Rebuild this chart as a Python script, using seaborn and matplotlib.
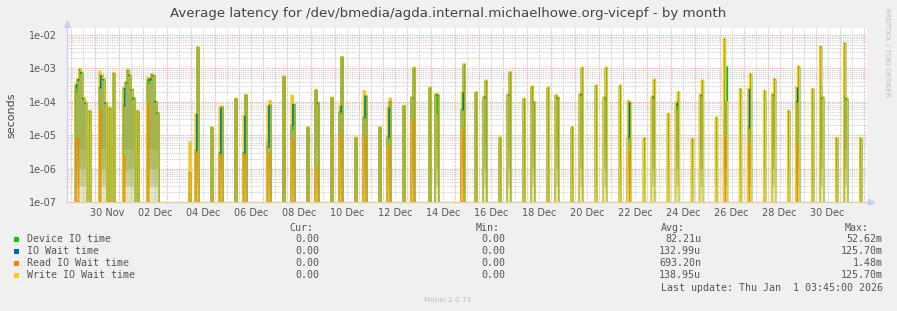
import numpy as np
import pandas as pd
import matplotlib
matplotlib.use("Agg")
import matplotlib.pyplot as plt
import matplotlib.dates as mdates
import matplotlib.ticker as mticker
from matplotlib.patches import Rectangle
import seaborn as sns

W_PX, H_PX = 897, 311

title = "Average latency for /dev/bmedia/agda.internal.michaelhowe.org-vicepf - by month"
series_names = ["Device IO time", "IO Wait time", "Read IO Wait time", "Write IO Wait time"]
series_colors = ["#00CC00", "#0066B3", "#FF8000", "#FFCC00"]

origin = "2025-11-29 00:00"
sample_hours = 2

# one entry per non-zero 2-hour sample (hours after origin)
event_hours = [4, 6, 8, 10, 12, 15, 19,
               28, 30, 32, 34, 38, 42,
               52, 54, 56, 58, 60, 62, 66,
               76, 78, 80, 82, 84, 86,
               118, 124, 126, 140, 148, 150, 164, 172, 174, 196, 198, 212,
               220, 222, 236, 244, 246, 260, 268, 270, 284, 292, 294, 308,
               316, 318, 332, 340, 342, 358, 364, 366, 390, 392, 404, 412,
               414, 428, 436, 438, 452, 460, 462, 476, 484, 486, 500, 508,
               510, 524, 532, 534, 548, 556, 558, 572, 580, 582, 596, 604,
               606, 620, 628, 630, 644, 652, 654, 668, 676, 678, 692, 700,
               702, 716, 724, 726, 740, 748, 750, 764, 772, 774, 788]
write_vals = [3.5e-4, 5.0e-4, 1.0e-3, 8.0e-4, 1.4e-4, 1.0e-4, 5.6e-5,
              8.0e-4, 6.5e-4, 5.0e-4, 1.0e-4, 7.0e-5, 7.5e-4,
              2.7e-4, 4.0e-4, 9.5e-4, 6.8e-4, 2.5e-4, 1.4e-4, 5.6e-5,
              5.4e-4, 5.4e-4, 7.0e-4, 6.5e-4, 1.1e-4, 5.0e-5,
              6.3e-6, 4.5e-5, 4.5e-3, 1.8e-5, 7.0e-5, 7.5e-5, 1.3e-4, 4.0e-5, 1.7e-4, 8.0e-5, 1.1e-4, 6.0e-4,
              1.6e-4, 9.0e-5, 1.8e-5, 2.4e-4, 1.0e-4, 1.4e-4, 8.0e-5, 2.3e-3, 8.9e-6, 2.2e-4, 1.6e-4, 1.8e-5,
              7.0e-5, 1.3e-4, 8.0e-5, 1.4e-4, 1.1e-3, 2.8e-4, 1.8e-4, 1.7e-4, 2.0e-4, 1.4e-3, 2.0e-4, 1.5e-4,
              4.5e-4, 8.9e-6, 1.7e-4, 8.0e-4, 1.3e-4, 3.0e-4, 1.0e-4, 2.8e-4, 1.6e-4, 1.4e-4, 1.8e-5, 1.8e-4,
              1.1e-3, 3.2e-4, 1.4e-4, 1.1e-3, 3.2e-4, 1.1e-4, 1.0e-4, 8.5e-6, 1.5e-4, 4.8e-4, 4.5e-5, 1.0e-4,
              2.0e-4, 8.0e-6, 1.7e-4, 4.5e-4, 3.5e-5, 7.9e-3, 1.0e-4, 2.5e-4, 2.5e-4, 7.0e-4, 2.2e-4, 1.7e-4,
              5.0e-4, 5.6e-5, 2.8e-4, 1.2e-3, 2.5e-4, 4.7e-3, 1.4e-4, 8.5e-6, 6.0e-3, 1.3e-4, 8.5e-6]
iowait_vals = [2.8e-4, 4.6e-4, 9.5e-4, 7.5e-4, 1.3e-4, 9.5e-5, 5.3e-5,
               2.7e-4, 6.2e-4, 4.8e-4, 9.5e-5, 6.6e-5, 7.1e-4,
               7.5e-5, 3.8e-4, 9.0e-4, 6.4e-4, 2.4e-4, 1.3e-4, 5.3e-5,
               4.5e-4, 4.5e-4, 6.6e-4, 6.2e-4, 1.0e-4, 4.7e-5,
               7.6e-7, 3.5e-6, 4.3e-3, 1.7e-5, 3.0e-6, 7.2e-5, 1.2e-4, 3.0e-6, 1.6e-4, 4.5e-6, 8.0e-5, 5.7e-4,
               2.0e-5, 8.5e-5, 1.7e-5, 2.2e-4, 9.5e-5, 1.3e-4, 5.0e-5, 2.2e-3, 8.4e-6, 3.5e-5, 1.5e-4, 1.7e-5,
               9.0e-6, 1.0e-4, 7.6e-5, 1.3e-4, 1.0e-3, 2.6e-4, 1.7e-4, 1.6e-4, 6.0e-5, 1.3e-3, 1.9e-4, 1.4e-4,
               4.3e-4, 8.4e-6, 1.6e-4, 7.5e-4, 1.2e-4, 2.8e-4, 9.5e-5, 2.6e-4, 1.5e-4, 1.3e-4, 1.7e-5, 1.7e-4,
               1.0e-3, 3.0e-4, 1.3e-4, 1.0e-3, 3.0e-4, 9.0e-6, 9.5e-5, 8.0e-6, 1.4e-4, 4.5e-4, 4.3e-5, 8.0e-5,
               1.9e-4, 7.6e-6, 1.6e-4, 4.3e-4, 3.3e-5, 7.5e-3, 1.0e-4, 2.4e-4, 1.8e-5, 6.5e-4, 2.1e-4, 1.6e-4,
               4.7e-4, 5.3e-5, 1.0e-4, 1.1e-3, 2.4e-4, 4.5e-3, 1.3e-4, 8.0e-6, 5.8e-3, 1.2e-4, 8.0e-6]
device_vals = [2.0e-4, 4.2e-4, 9.0e-4, 7.0e-4, 1.2e-4, 9.0e-5, 5.0e-5,
               2.5e-4, 5.8e-4, 4.5e-4, 9.0e-5, 6.3e-5, 6.8e-4,
               2.5e-4, 3.6e-4, 8.6e-4, 6.1e-4, 2.3e-4, 1.2e-4, 5.0e-5,
               3.5e-4, 4.5e-4, 6.3e-4, 5.9e-4, 1.0e-4, 4.5e-5,
               1.8e-7, 3.0e-6, 4.0e-3, 1.6e-5, 2.5e-6, 7.0e-5, 1.2e-4, 2.8e-6, 1.5e-4, 6.3e-6, 8.0e-5, 5.4e-4,
               1.5e-5, 8.0e-5, 1.6e-5, 2.0e-4, 9.0e-5, 1.3e-4, 4.5e-5, 2.0e-3, 8.0e-6, 3.2e-5, 1.4e-4, 1.6e-5,
               8.0e-6, 1.0e-4, 7.2e-5, 1.4e-4, 1.0e-3, 2.5e-4, 1.6e-4, 4.5e-5, 5.5e-5, 1.2e-3, 1.8e-4, 1.3e-4,
               4.0e-4, 8.0e-6, 1.7e-4, 7.0e-4, 1.2e-4, 2.6e-4, 1.0e-4, 2.5e-4, 1.6e-4, 1.3e-4, 1.6e-5, 1.6e-4,
               1.0e-3, 2.9e-4, 1.4e-4, 1.0e-3, 2.9e-4, 8.0e-6, 9.0e-5, 7.6e-6, 1.3e-4, 4.3e-4, 4.0e-5, 6.0e-5,
               1.8e-4, 7.2e-6, 1.5e-4, 4.0e-4, 3.2e-5, 1.0e-4, 1.1e-3, 2.3e-4, 1.6e-5, 6.0e-4, 2.0e-4, 1.7e-4,
               4.5e-4, 5.0e-5, 9.5e-5, 1.0e-3, 2.3e-4, 2.8e-4, 1.4e-4, 7.6e-6, 1.4e-4, 1.3e-4, 7.6e-6]
read_vals = [0, 8.0e-6, 0, 0, 0, 0, 0,
             6.0e-5, 0, 0, 0, 0, 0,
             2.5e-6, 0, 0, 0, 0, 0, 0,
             9.0e-5, 0, 0, 0, 0, 0,
             7.0e-7, 3.2e-6, 0, 0, 2.5e-6, 0, 0, 2.6e-6, 0, 3.0e-6, 0, 0,
             7.0e-6, 0, 0, 1.1e-6, 0, 0, 8.9e-6, 0, 0, 8.9e-6, 0, 0,
             4.5e-6, 0, 0, 2.8e-5, 0, 0, 0, 0, 1.4e-5, 0, 0, 0,
             0, 0, 0, 0, 0, 0, 0, 0, 0, 0, 0, 0,
             0, 0, 0, 0, 0, 3.2e-6, 0, 0, 0, 0, 0, 0,
             0, 0, 0, 0, 0, 7.6e-6, 0, 0, 4.3e-6, 0, 0, 0,
             0, 0, 4.3e-6, 0, 0, 0, 0, 0, 0, 0, 0]

stat_cur = ["0.00", "0.00", "0.00", "0.00"]
stat_min = ["0.00", "0.00", "0.00", "0.00"]
stat_avg = ["82.21u", "132.99u", "693.20n", "138.95u"]
stat_max = ["52.62m", "125.70m", "1.48m", "125.70m"]
last_update = "Last update: Thu Jan  1 03:45:00 2026"
munin_version = "Munin 2.0.73"
side_text = "RRDTOOL / TOBI OETIKER"
y_label = "seconds"

# ---------------------------------------------------------------- build series
grid_hours = np.arange(-4, 798, sample_hours)
idx = {h: i for i, h in enumerate(grid_hours)}
values = {name: np.zeros(len(grid_hours)) for name in series_names}
for h, d, io, r, w in zip(event_hours, device_vals, iowait_vals, read_vals, write_vals):
    i = idx[h - (h % 2)]
    values["Device IO time"][i] = d
    values["IO Wait time"][i] = io
    values["Read IO Wait time"][i] = r
    values["Write IO Wait time"][i] = w

t0 = pd.Timestamp(origin)
times = t0 + pd.to_timedelta(grid_hours, unit="h")
FLOOR = 1e-9  # zero is drawn below the log axis, as rrdtool does
frames = []
for name in series_names:
    frames.append(pd.DataFrame({"time": times, "value": np.where(values[name] > 0, values[name], FLOOR),
                                "series": name}))
df = pd.concat(frames, ignore_index=True)

# ---------------------------------------------------------------- figure
sns.set_style("white")
plt.rcParams["font.family"] = ["DejaVu Sans"]
plt.rcParams["path.simplify"] = False
fig = plt.figure(figsize=(W_PX / 100, H_PX / 100), dpi=100, facecolor="#F0F0F0")


def fx(x):
    return x / W_PX


def fy(y):
    return 1 - y / H_PX


L, R, T, B = 67, 867, 28, 202
ax = fig.add_axes([fx(L), fy(B), (R - L) / W_PX, (B - T) / H_PX])
ax.set_facecolor("white")

ax.set_yscale("log")
ymin, ymax = 1e-7, 0.0162
ax.set_ylim(ymin, ymax)
xlo, xhi = t0 + pd.Timedelta(hours=-3.7), t0 + pd.Timedelta(hours=795.3)
ax.set_xlim(xlo, xhi)

# olive shading under the spikes (overlapping green / yellow strokes)
peak = np.maximum.reduce([values[n] for n in series_names])
bands = [(1e-7, 3e-7, 0.3), (3e-7, 1e-6, 0.55), (1e-6, 4e-6, 0.8), (4e-6, 1.0, 0.92)]
for lo, hi, a in bands:
    top = np.minimum(peak, hi)
    ax.fill_between(times, lo, np.where(top > lo, top, lo), step="post",
                    color="#9AAF45", alpha=a, linewidth=0, zorder=1.5, snap=False)

sns.lineplot(data=df, x="time", y="value", hue="series", hue_order=series_names,
             palette=series_colors, drawstyle="steps-post", linewidth=0.85,
             estimator=None, legend=False, ax=ax, zorder=3, snap=False)
ax.set_yscale("log")
ax.set_ylim(ymin, ymax)
ax.set_xlim(xlo, xhi)
ax.set_xlabel("")
ax.set_ylabel("")

# grids
ax.yaxis.set_major_locator(mticker.LogLocator(base=10, numticks=20))
ax.yaxis.set_minor_locator(mticker.LogLocator(base=10, subs=np.arange(2, 10), numticks=20))
ax.yaxis.set_major_formatter(mticker.FuncFormatter(lambda v, p: f"{v:.0e}"))
ax.yaxis.set_minor_formatter(mticker.NullFormatter())
ax.xaxis.set_major_locator(mdates.DayLocator())
ax.xaxis.set_minor_locator(mdates.HourLocator(byhour=[12]))
ax.xaxis.set_major_formatter(mticker.NullFormatter())
label_ref = pd.Timestamp("2025-11-30")


def xfmt(v, p):
    d = mdates.num2date(v).replace(tzinfo=None)
    if (pd.Timestamp(d.date()) - label_ref).days % 2 == 0:
        return d.strftime("%d %b")
    return ""


ax.xaxis.set_minor_formatter(mticker.FuncFormatter(xfmt))

dot = (0, (1, 1))
ax.grid(which="major", axis="both", color="#EDA9A9", linestyle=dot, linewidth=0.8, zorder=0)
ax.grid(which="minor", axis="both", color="#CFCFCF", linestyle=dot, linewidth=0.8, zorder=0)
ax.set_axisbelow(True)

ax.tick_params(axis="x", which="major", length=3, width=0.8, color="#E07070", direction="out")
ax.tick_params(axis="x", which="minor", length=0, pad=4, labelsize=7, labelcolor="#555555")
ax.tick_params(axis="y", which="major", length=2, width=0.8, color="#E07070", pad=5,
               labelsize=7, labelcolor="#555555")
ax.tick_params(axis="y", which="minor", length=0)

for s in ["top", "right"]:
    ax.spines[s].set_visible(False)
ax.spines["left"].set_color("#CCD0F2")
ax.spines["bottom"].set_color("#E9CFA0")
ax.spines["left"].set_linewidth(1)
ax.spines["bottom"].set_linewidth(1)
ax.plot([0], [1.025], marker="^", markersize=5, color="#C8CEF4", transform=ax.transAxes, clip_on=False)
ax.plot([1.005], [0], marker=">", markersize=5, color="#C8CEF4", transform=ax.transAxes, clip_on=False)

# ---------------------------------------------------------------- texts
fig.text(fx(448), fy(13), title, ha="center", va="center", fontsize=9.6, color="#444444")
fig.text(fx(11), fy(115), y_label, ha="center", va="center", rotation=90, fontsize=8, color="#444444")
fig.text(fx(887), fy(52), side_text, ha="center", va="center", rotation=270, fontsize=5, color="#BBBBBB")
fig.text(fx(448), fy(300), munin_version, ha="center", va="center", fontsize=5.2, color="#BBBBBB")

mono = dict(family="DejaVu Sans Mono", fontsize=7.2, color="#555555", va="center")
fig.text(fx(313), fy(228), "Cur:", ha="right", **mono)
fig.text(fx(500), fy(228), "Min:", ha="right", **mono)
fig.text(fx(685), fy(228), "Avg:", ha="right", **mono)
fig.text(fx(869), fy(228), "Max:", ha="right", **mono)
for k, name in enumerate(series_names):
    y = 239.5 + 12 * k
    fig.patches.append(Rectangle((fx(14), fy(y + 2.7)), 5.4 / W_PX, 5.4 / H_PX, transform=fig.transFigure,
                                 facecolor=series_colors[k], edgecolor="none"))
    fig.text(fx(26.5), fy(y), name, ha="left", **mono)
    fig.text(fx(319.5), fy(y), stat_cur[k], ha="right", **mono)
    fig.text(fx(505.5), fy(y), stat_min[k], ha="right", **mono)
    fig.text(fx(701), fy(y), stat_avg[k], ha="right", **mono)
    fig.text(fx(882.5), fy(y), stat_max[k], ha="right", **mono)
fig.text(fx(882.5), fy(287.7), last_update, ha="right", **mono)

fig.savefig("out.png", dpi=100, facecolor=fig.get_facecolor())
